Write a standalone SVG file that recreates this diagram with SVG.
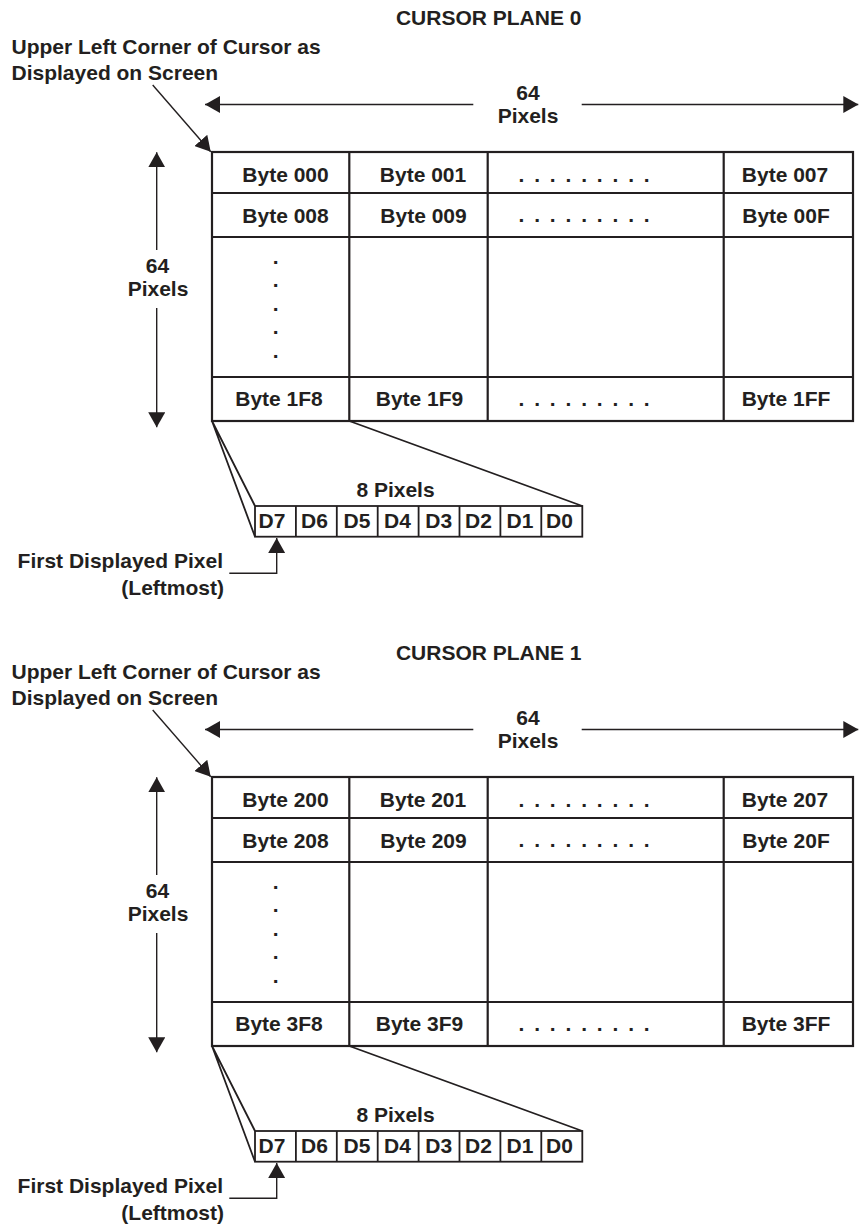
<svg xmlns="http://www.w3.org/2000/svg" width="860" height="1232" viewBox="0 0 860 1232">
  <style>
    text { font-family: "Liberation Sans", Arial, Helvetica, sans-serif; font-weight: bold; font-size: 21px; fill: #231f20; }
    .mid { text-anchor: middle; }
    .end { text-anchor: end; }
    .dots { letter-spacing: 2px; }
    .grid { fill: none; stroke: #231f20; stroke-width: 2.2; }
    .cell { fill: none; stroke: #231f20; stroke-width: 1.8; }
    .thin { fill: none; stroke: #231f20; stroke-width: 1.4; }
    .fan { fill: none; stroke: #231f20; stroke-width: 1.8; }
  </style>
  <defs>
    <marker id="head" markerUnits="userSpaceOnUse" markerWidth="15" markerHeight="17" viewBox="0 0 15 17" refX="15" refY="8.5" orient="auto-start-reverse">
      <path d="M0,0 L15,8.5 L0,17 z" fill="#231f20"/>
    </marker>
  </defs>

  <rect width="860" height="1232" fill="#ffffff"/>

  <!-- ===== Cursor plane 0 ===== -->
  <g id="plane0">
    <g id="plane0-title"><text x="488.7" y="25" class="mid">CURSOR PLANE 0</text></g>
    <g id="plane0-corner-label">
      <text x="11.5" y="54.3">Upper Left Corner of Cursor as</text>
      <text x="11.5" y="80">Displayed on Screen</text>
    </g>
    <g id="plane0-width-label">
      <text x="528" y="100" class="mid">64</text>
      <text x="528" y="123.3" class="mid">Pixels</text>
    </g>
    <g id="plane0-height-label">
      <text x="157.5" y="273.3" class="mid">64</text>
      <text x="158" y="295.5" class="mid">Pixels</text>
    </g>
    <g id="plane0-table">
      <rect class="grid" x="212" y="152" width="641" height="269"/>
      <path class="grid" d="M212,193 H853 M212,237 H853 M212,377 H853 M349.3,152 V421 M487.7,152 V421 M723.7,152 V421"/>
      <text x="285.5" y="182" class="mid">Byte 000</text>
      <text x="423" y="182" class="mid">Byte 001</text>
      <text x="518.5" y="182" class="dots">. . . . . . . . .</text>
      <text x="785" y="182" class="mid">Byte 007</text>
      <text x="285.5" y="223.3" class="mid">Byte 008</text>
      <text x="423.5" y="223.3" class="mid">Byte 009</text>
      <text x="518.5" y="222" class="dots">. . . . . . . . .</text>
      <text x="786" y="223.3" class="mid">Byte 00F</text>
      <text class="mid"><tspan x="275.7" y="263.5">.</tspan><tspan x="275.7" y="287">.</tspan><tspan x="275.7" y="310.5">.</tspan><tspan x="275.7" y="334">.</tspan><tspan x="275.7" y="357.5">.</tspan></text>
      <text x="279" y="405.7" class="mid">Byte 1F8</text>
      <text x="419.5" y="405.7" class="mid">Byte 1F9</text>
      <text x="518.5" y="405.5" class="dots">. . . . . . . . .</text>
      <text x="786" y="405.7" class="mid">Byte 1FF</text>
    </g>
    <g id="plane0-byte-detail">
      <text x="395.5" y="496.7" class="mid">8 Pixels</text>
      <rect class="cell" x="255" y="506" width="327.3" height="30.7"/>
      <path class="cell" d="M295.9,506 V536.7 M336.8,506 V536.7 M377.7,506 V536.7 M418.6,506 V536.7 M459.5,506 V536.7 M500.4,506 V536.7 M541.3,506 V536.7"/>
      <text x="272" y="528.3" class="mid">D7</text>
      <text x="314.5" y="528.3" class="mid">D6</text>
      <text x="357" y="528.3" class="mid">D5</text>
      <text x="397.5" y="528.3" class="mid">D4</text>
      <text x="438.7" y="528.3" class="mid">D3</text>
      <text x="478.5" y="528.3" class="mid">D2</text>
      <text x="520" y="528.3" class="mid">D1</text>
      <text x="559.5" y="528.3" class="mid">D0</text>
    </g>
    <g id="plane0-first-pixel-label">
      <text x="223" y="568.3" class="end">First Displayed Pixel</text>
      <text x="224" y="594.5" class="end">(Leftmost)</text>
    </g>
    <g id="plane0-connectors">
      <line class="thin" x1="152.7" y1="85" x2="210.7" y2="151.7" marker-end="url(#head)"/>
      <line class="thin" x1="473.3" y1="104.5" x2="205" y2="104.5" marker-end="url(#head)"/>
      <line class="thin" x1="581.7" y1="104.5" x2="858.3" y2="104.5" marker-end="url(#head)"/>
      <line class="thin" x1="156.7" y1="250" x2="156.7" y2="152.3" marker-end="url(#head)"/>
      <line class="thin" x1="156.7" y1="308" x2="156.7" y2="427.3" marker-end="url(#head)"/>
      <path class="fan" d="M212,421 L255,536.7 M212,421 L255,506 M349.3,421 L582.3,506"/>
      <path class="thin" d="M229.3,573.3 H276.7 V538" marker-end="url(#head)"/>
    </g>
  </g>

  <!-- ===== Cursor plane 1 ===== -->
  <g id="plane1" transform="translate(0,625)">
    <g id="plane1-title"><text x="488.7" y="35" class="mid">CURSOR PLANE 1</text></g>
    <g id="plane1-corner-label">
      <text x="11.5" y="54.3">Upper Left Corner of Cursor as</text>
      <text x="11.5" y="80">Displayed on Screen</text>
    </g>
    <g id="plane1-width-label">
      <text x="528" y="100" class="mid">64</text>
      <text x="528" y="123.3" class="mid">Pixels</text>
    </g>
    <g id="plane1-height-label">
      <text x="157.5" y="273.3" class="mid">64</text>
      <text x="158" y="295.5" class="mid">Pixels</text>
    </g>
    <g id="plane1-table">
      <rect class="grid" x="212" y="152" width="641" height="269"/>
      <path class="grid" d="M212,193 H853 M212,237 H853 M212,377 H853 M349.3,152 V421 M487.7,152 V421 M723.7,152 V421"/>
      <text x="285.5" y="182" class="mid">Byte 200</text>
      <text x="423" y="182" class="mid">Byte 201</text>
      <text x="518.5" y="182" class="dots">. . . . . . . . .</text>
      <text x="785" y="182" class="mid">Byte 207</text>
      <text x="285.5" y="223.3" class="mid">Byte 208</text>
      <text x="423.5" y="223.3" class="mid">Byte 209</text>
      <text x="518.5" y="222" class="dots">. . . . . . . . .</text>
      <text x="786" y="223.3" class="mid">Byte 20F</text>
      <text class="mid"><tspan x="275.7" y="263.5">.</tspan><tspan x="275.7" y="287">.</tspan><tspan x="275.7" y="310.5">.</tspan><tspan x="275.7" y="334">.</tspan><tspan x="275.7" y="357.5">.</tspan></text>
      <text x="279" y="405.7" class="mid">Byte 3F8</text>
      <text x="419.5" y="405.7" class="mid">Byte 3F9</text>
      <text x="518.5" y="405.5" class="dots">. . . . . . . . .</text>
      <text x="786" y="405.7" class="mid">Byte 3FF</text>
    </g>
    <g id="plane1-byte-detail">
      <text x="395.5" y="496.7" class="mid">8 Pixels</text>
      <rect class="cell" x="255" y="506" width="327.3" height="30.7"/>
      <path class="cell" d="M295.9,506 V536.7 M336.8,506 V536.7 M377.7,506 V536.7 M418.6,506 V536.7 M459.5,506 V536.7 M500.4,506 V536.7 M541.3,506 V536.7"/>
      <text x="272" y="528.3" class="mid">D7</text>
      <text x="314.5" y="528.3" class="mid">D6</text>
      <text x="357" y="528.3" class="mid">D5</text>
      <text x="397.5" y="528.3" class="mid">D4</text>
      <text x="438.7" y="528.3" class="mid">D3</text>
      <text x="478.5" y="528.3" class="mid">D2</text>
      <text x="520" y="528.3" class="mid">D1</text>
      <text x="559.5" y="528.3" class="mid">D0</text>
    </g>
    <g id="plane1-first-pixel-label">
      <text x="223" y="568.3" class="end">First Displayed Pixel</text>
      <text x="224" y="594.5" class="end">(Leftmost)</text>
    </g>
    <g id="plane1-connectors">
      <line class="thin" x1="152.7" y1="85" x2="210.7" y2="151.7" marker-end="url(#head)"/>
      <line class="thin" x1="473.3" y1="104.5" x2="205" y2="104.5" marker-end="url(#head)"/>
      <line class="thin" x1="581.7" y1="104.5" x2="858.3" y2="104.5" marker-end="url(#head)"/>
      <line class="thin" x1="156.7" y1="250" x2="156.7" y2="152.3" marker-end="url(#head)"/>
      <line class="thin" x1="156.7" y1="308" x2="156.7" y2="427.3" marker-end="url(#head)"/>
      <path class="fan" d="M212,421 L255,536.7 M212,421 L255,506 M349.3,421 L582.3,506"/>
      <path class="thin" d="M229.3,573.3 H276.7 V538" marker-end="url(#head)"/>
    </g>
  </g>
</svg>
